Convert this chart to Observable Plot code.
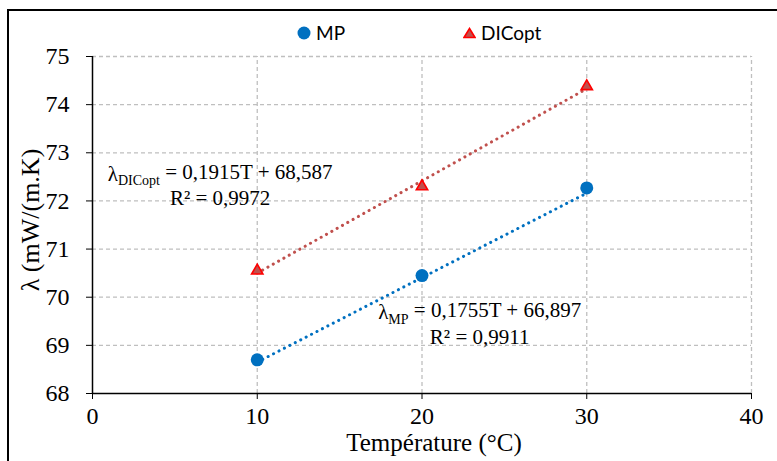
<!DOCTYPE html>
<html><head><meta charset="utf-8">
<script src="https://cdn.jsdelivr.net/npm/d3@7"></script>
<script src="https://cdn.jsdelivr.net/npm/@observablehq/plot@0.6"></script>
<style>
body{margin:0;width:777px;height:461px;overflow:hidden;background:#fff;}
#wrap{position:relative;width:777px;height:461px;}
#frame{position:absolute;left:7px;top:9px;width:820px;height:520px;border:2px solid #000;box-sizing:border-box;pointer-events:none;}
.leg{position:absolute;top:22px;font-family:Lato,"Liberation Sans",sans-serif;font-size:19px;color:#000;line-height:22px;display:flex;align-items:center;}
.leg svg{margin-right:5px;}
#chart{position:absolute;left:0;top:0;}
#chart svg text{font-family:"Liberation Serif",serif !important;}
</style>
</head><body>
<div id="wrap">
  <div id="chart"></div>
  <div id="legMP" class="leg" style="left:297px"><svg width="14" height="14"><circle cx="7" cy="7" r="6.5" fill="#0070C0"/></svg>MP</div>
  <div id="legDIC" class="leg" style="left:463px"><svg width="13" height="12"><path d="M6.5,1.5 L12,10.5 L1,10.5 Z" fill="#C0504D" stroke="#FF0000" stroke-width="1.6"/></svg>DICopt</div>
  <div id="frame"></div>
</div>
<script>
const temps = [10, 20, 30];
const mpValues = [68.70, 70.45, 72.27];
const dicValues = [70.55, 72.30, 74.38];
const xTicks = [0, 10, 20, 30, 40];
const yTicks = [68, 69, 70, 71, 72, 73, 74, 75];
const seriesNames = ["MP", "DICopt"];
const slopes = [0.1755, 0.1915];
const intercepts = [66.897, 68.587];
const eqTexts = ["= 0,1755T + 66,897", "= 0,1915T + 68,587"];
const r2Texts = ["R² = 0,9911", "R² = 0,9972"];
const labelX = [23.5, 7.75];
const labelY = [69.68, 72.56];
const r2Y = [69.16, 72.05];
const colors = {MP: "#0070C0", DICopt: "#C0504D"};

const mpData = temps.map((t, i) => ({t, v: mpValues[i]}));
const dicData = temps.map((t, i) => ({t, v: dicValues[i]}));
const trend = [];
seriesNames.forEach((s, k) => {
  [d3.min(temps), d3.max(temps)].forEach(t => trend.push({series: s, t, v: intercepts[k] + slopes[k] * t}));
});
const eqData = seriesNames.map((s, k) => ({sub: s, eq: eqTexts[k], x: labelX[k], y: labelY[k], r2: r2Texts[k], y2: r2Y[k]}));

const grid = {stroke: "#bfbfbf", strokeDasharray: "4,3", strokeWidth: 1.3, strokeOpacity: 1};
const serif = "Liberation Serif";

const plot = Plot.plot({
  width: 777, height: 461,
  marginLeft: 92, marginRight: 26, marginTop: 56, marginBottom: 68,
  style: {fontFamily: serif, fontSize: "24px", color: "#000", background: "transparent"},
  x: {domain: [0, 40], ticks: xTicks, tickSize: 6, tickPadding: 7, tickFormat: "d", label: null},
  y: {domain: [68, 75], ticks: yTicks, tickSize: 6, tickPadding: 17, tickFormat: "d", label: null},
  marks: [
    Plot.ruleX(xTicks.slice(1), {y1: 68, y2: 75, ...grid}),
    Plot.ruleY(yTicks.slice(1), {x1: 0, x2: 40, ...grid}),
    Plot.ruleX([0], {y1: 68, y2: 75, stroke: "#000", strokeWidth: 1.5}),
    Plot.ruleY([68], {x1: 0, x2: 40, stroke: "#000", strokeWidth: 1.5}),
    Plot.line(trend, {x: "t", y: "v", z: "series", stroke: d => colors[d.series], strokeWidth: 3, strokeDasharray: "0.1,6", strokeLinecap: "round"}),
    Plot.dot(mpData, {x: "t", y: "v", r: 6.5, fill: "#0070C0", stroke: "none"}),
    Plot.dot(dicData, {x: "t", y: "v", r: 4.2, symbol: "triangle", fill: "#C0504D", stroke: "#FF0000", strokeWidth: 1.6}),
    Plot.text(eqData, {x: "x", y: "y", text: d => "λ" + d.sub + " " + d.eq, textAnchor: "middle", fontSize: 21, fontFamily: serif, fill: "#000", className: "eqn"}),
    Plot.text(eqData, {x: "x", y: "y2", text: "r2", textAnchor: "middle", fontSize: 21, fontFamily: serif, fill: "#000"}),
    Plot.text(["Température (°C)"], {frameAnchor: "bottom", lineAnchor: "middle", textAnchor: "middle", dy: 49, dx: 12, fontSize: 25, fontFamily: serif, fill: "#000"}),
    Plot.text(["λ (mW/(m.K)"], {frameAnchor: "left", lineAnchor: "middle", textAnchor: "middle", dx: -62, dy: -5, rotate: -90, fontSize: 26, fontFamily: serif, fill: "#000"})
  ]
});
document.getElementById("chart").appendChild(plot);

// subscripts in the equation labels
d3.select(plot).selectAll("g.eqn text").each(function(_, i) {
  const d = eqData[i];
  const t = d3.select(this);
  t.text(null);
  t.append("tspan").text("λ");
  t.append("tspan").attr("font-size", 14).attr("dy", "0.3em").text(d.sub);
  t.append("tspan").attr("dy", "-0.3em").text(" " + d.eq);
});
</script>
</body></html>
